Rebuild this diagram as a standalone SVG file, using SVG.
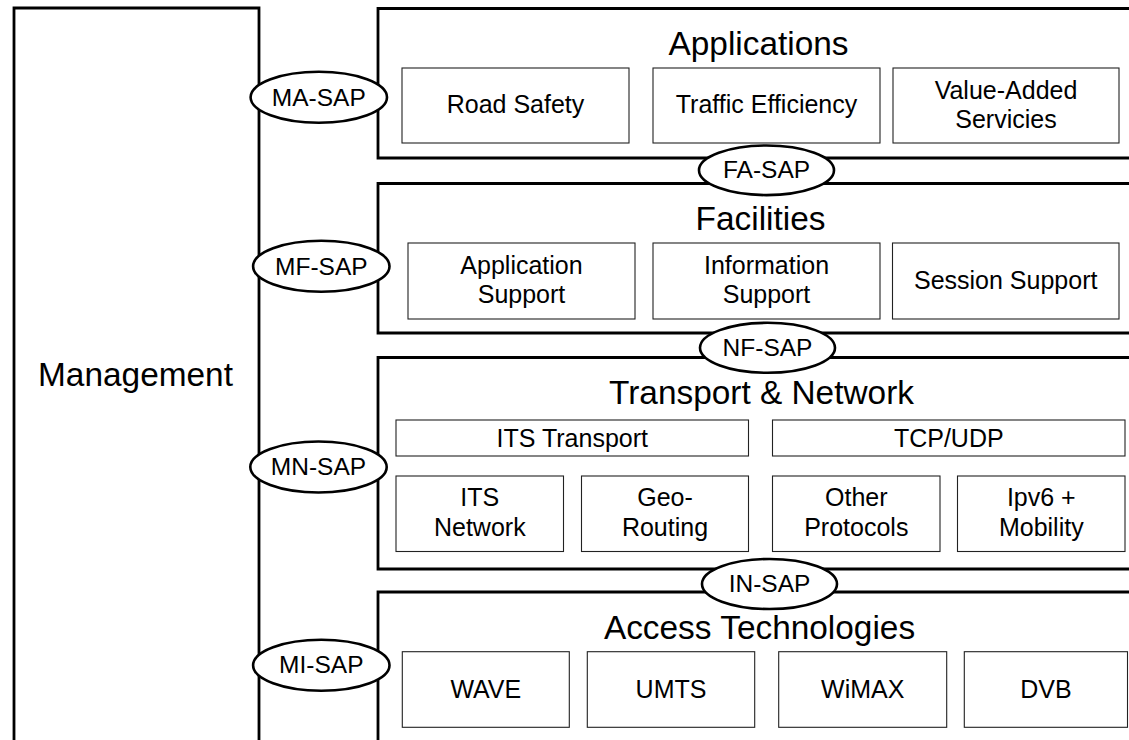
<svg xmlns="http://www.w3.org/2000/svg" width="1129" height="740" viewBox="0 0 1129 740">
<style>
.layer{fill:none;stroke:#000;stroke-width:2.8}
.box{fill:#fff;stroke:#222;stroke-width:1.1}
.sap{fill:#fff;stroke:#000;stroke-width:2.6}
text{font-family:"Liberation Sans",Arial,sans-serif;fill:#000;text-anchor:middle}
.t{font-size:33.4px}
.b{font-size:25px}
.s{font-size:24.5px}
</style>
<rect width="1129" height="740" fill="#fff"/>
<g id="management">
<path class="layer" d="M14,745 V8 H259 V745"/>
<text class="t" x="135.5" y="386">Management</text>
</g>
<g id="applications">
<path class="layer" d="M1135,8.5 H378 V158 H1135"/>
<text class="t" x="758.5" y="55">Applications</text>
<g id="road-safety"><rect class="box" x="402" y="68" width="227" height="75"/><text class="b" x="515.5" y="113">Road Safety</text></g>
<g id="traffic-efficiency"><rect class="box" x="653" y="68" width="227" height="75"/><text class="b" x="766.5" y="113">Traffic Efficiency</text></g>
<g id="value-added"><rect class="box" x="893" y="68" width="226" height="75"/><text class="b" x="1006" y="98.5">Value-Added</text><text class="b" x="1006" y="127.5">Servicies</text></g>
</g>
<g id="facilities">
<path class="layer" d="M1135,183.5 H378 V333 H1135"/>
<text class="t" x="760.5" y="230">Facilities</text>
<g id="application-support"><rect class="box" x="408" y="243" width="227" height="76"/><text class="b" x="521.5" y="274">Application</text><text class="b" x="521.5" y="303">Support</text></g>
<g id="information-support"><rect class="box" x="653" y="243" width="227" height="76"/><text class="b" x="766.5" y="274">Information</text><text class="b" x="766.5" y="303">Support</text></g>
<g id="session-support"><rect class="box" x="892.5" y="243" width="226.5" height="76"/><text class="b" x="1005.7" y="289">Session Support</text></g>
</g>
<g id="transport-network">
<path class="layer" d="M1135,357.5 H378 V569 H1135"/>
<text class="t" x="761.5" y="403.5">Transport &amp; Network</text>
<g id="its-transport"><rect class="box" x="396" y="420" width="352.5" height="36"/><text class="b" x="572.3" y="446.5">ITS Transport</text></g>
<g id="tcp-udp"><rect class="box" x="772.5" y="420" width="352.5" height="36"/><text class="b" x="948.8" y="446.5">TCP/UDP</text></g>
<g id="its-network"><rect class="box" x="396" y="476" width="167.5" height="75.5"/><text class="b" x="479.8" y="505.7">ITS</text><text class="b" x="479.8" y="536">Network</text></g>
<g id="geo-routing"><rect class="box" x="581.5" y="476" width="167" height="75.5"/><text class="b" x="665" y="505.7">Geo-</text><text class="b" x="665" y="536">Routing</text></g>
<g id="other-protocols"><rect class="box" x="772.5" y="476" width="167.5" height="75.5"/><text class="b" x="856.3" y="505.7">Other</text><text class="b" x="856.3" y="536">Protocols</text></g>
<g id="ipv6-mobility"><rect class="box" x="957.5" y="476" width="167.5" height="75.5"/><text class="b" x="1041.3" y="505.7">Ipv6 +</text><text class="b" x="1041.3" y="536">Mobility</text></g>
</g>
<g id="access-technologies">
<path class="layer" d="M1135,592 H378 V745"/>
<text class="t" x="759.5" y="639">Access Technologies</text>
<g id="wave"><rect class="box" x="402.3" y="651.7" width="167" height="75.6"/><text class="b" x="485.8" y="698">WAVE</text></g>
<g id="umts"><rect class="box" x="587.3" y="651.7" width="167.4" height="75.6"/><text class="b" x="671" y="698">UMTS</text></g>
<g id="wimax"><rect class="box" x="778.7" y="651.7" width="168" height="75.6"/><text class="b" x="862.7" y="698">WiMAX</text></g>
<g id="dvb"><rect class="box" x="964.3" y="651.7" width="163.2" height="75.6"/><text class="b" x="1046" y="698">DVB</text></g>
</g>
<g id="connectors"></g>
<g id="ma-sap"><ellipse class="sap" cx="318.8" cy="97.3" rx="68.2" ry="25.5"/><text class="s" x="318.8" y="105.5">MA-SAP</text></g>
<g id="mf-sap"><ellipse class="sap" cx="321.3" cy="266.3" rx="68.2" ry="25.5"/><text class="s" x="321.3" y="274.5">MF-SAP</text></g>
<g id="mn-sap"><ellipse class="sap" cx="318.5" cy="467" rx="68.2" ry="25.5"/><text class="s" x="318.5" y="475.2">MN-SAP</text></g>
<g id="mi-sap"><ellipse class="sap" cx="321.3" cy="665.3" rx="68.2" ry="25.5"/><text class="s" x="321.3" y="673.3">MI-SAP</text></g>
<g id="fa-sap"><ellipse class="sap" cx="766.5" cy="170.3" rx="67.5" ry="24.8"/><text class="s" x="766.5" y="178.3">FA-SAP</text></g>
<g id="nf-sap"><ellipse class="sap" cx="767.5" cy="347.8" rx="67.5" ry="25"/><text class="s" x="767.5" y="355.8">NF-SAP</text></g>
<g id="in-sap"><ellipse class="sap" cx="769.5" cy="584" rx="67.5" ry="25"/><text class="s" x="769.5" y="592">IN-SAP</text></g>
</svg>
